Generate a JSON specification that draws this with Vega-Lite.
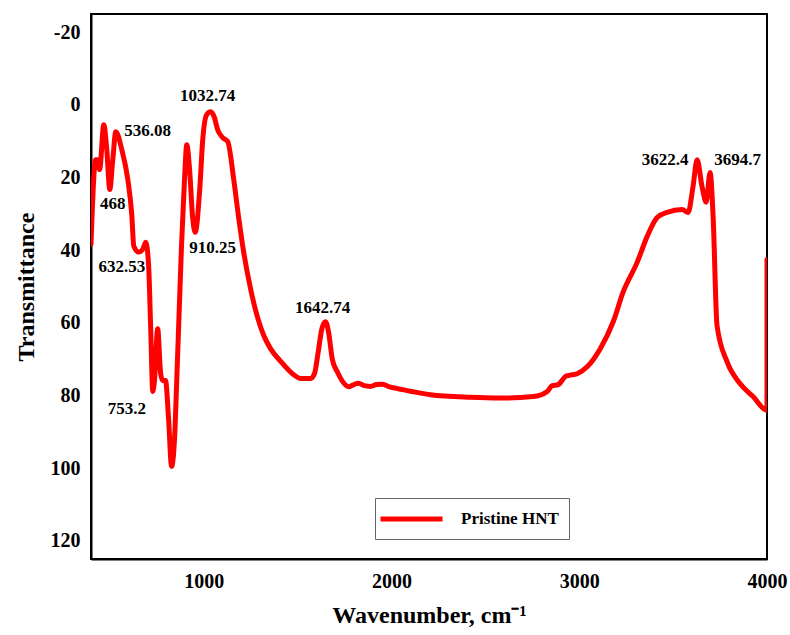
{
  "$schema": "https://vega.github.io/schema/vega-lite/v6.json",
  "width": 676,
  "height": 545,
  "autosize": {"type": "none"},
  "padding": {"left": 91, "top": 14, "right": 23, "bottom": 76},
  "background": "white",
  "config": {
    "view": {"stroke": "black", "strokeWidth": 2},
    "font": "Liberation Serif",
    "axis": {
      "grid": false, "ticks": false, "domainColor": "black", "domainWidth": 2,
      "labelFont": "Liberation Serif", "labelFontWeight": "bold", "labelFontSize": 20, "labelColor": "black",
      "titleFont": "Liberation Serif", "titleFontWeight": "bold", "titleFontSize": 24, "titleColor": "black"
    }
  },
  "datasets": {
    "spectrum": [
      {"x": 400, "y": 38.4}, {"x": 425, "y": 15.1}, {"x": 436, "y": 15.1}, {"x": 446, "y": 17.8},
      {"x": 468, "y": 5.5}, {"x": 484, "y": 12.3}, {"x": 500, "y": 23.3}, {"x": 516, "y": 15.1},
      {"x": 532, "y": 7.4}, {"x": 564, "y": 12.3}, {"x": 596, "y": 20.5}, {"x": 617, "y": 30.1},
      {"x": 628, "y": 38.9}, {"x": 654, "y": 40.5}, {"x": 676, "y": 39.7}, {"x": 692, "y": 37.8},
      {"x": 707, "y": 44.4}, {"x": 718, "y": 61.6}, {"x": 729, "y": 78.9}, {"x": 739, "y": 75.3},
      {"x": 755, "y": 61.6}, {"x": 771, "y": 74.0}, {"x": 782, "y": 75.9}, {"x": 797, "y": 75.9},
      {"x": 813, "y": 86.3}, {"x": 829, "y": 99.5}, {"x": 845, "y": 91.8}, {"x": 857, "y": 75.3},
      {"x": 870, "y": 56.2}, {"x": 882, "y": 38.9}, {"x": 898, "y": 20.5}, {"x": 910, "y": 11.0},
      {"x": 925, "y": 17.8}, {"x": 941, "y": 30.9}, {"x": 955, "y": 35.1}, {"x": 979, "y": 23.3},
      {"x": 995, "y": 9.6}, {"x": 1016, "y": 2.7}, {"x": 1037, "y": 1.9}, {"x": 1058, "y": 3.6},
      {"x": 1074, "y": 6.8}, {"x": 1101, "y": 9.0}, {"x": 1128, "y": 10.1}, {"x": 1160, "y": 20.5},
      {"x": 1186, "y": 30.9}, {"x": 1213, "y": 40.5}, {"x": 1250, "y": 50.7}, {"x": 1287, "y": 58.5},
      {"x": 1320, "y": 63.5}, {"x": 1356, "y": 67.1}, {"x": 1410, "y": 70.6}, {"x": 1473, "y": 74.0},
      {"x": 1516, "y": 75.3}, {"x": 1569, "y": 75.3}, {"x": 1590, "y": 74.0}, {"x": 1610, "y": 68.0},
      {"x": 1630, "y": 61.5}, {"x": 1649, "y": 59.7}, {"x": 1665, "y": 62.5}, {"x": 1685, "y": 70.0},
      {"x": 1713, "y": 73.6}, {"x": 1745, "y": 76.5}, {"x": 1771, "y": 77.6}, {"x": 1800, "y": 77.0},
      {"x": 1824, "y": 76.6}, {"x": 1855, "y": 77.3}, {"x": 1888, "y": 77.5}, {"x": 1920, "y": 77.0},
      {"x": 1952, "y": 76.9}, {"x": 1990, "y": 77.6}, {"x": 2032, "y": 78.1}, {"x": 2120, "y": 79.0},
      {"x": 2207, "y": 79.8}, {"x": 2420, "y": 80.5}, {"x": 2580, "y": 80.7}, {"x": 2755, "y": 80.3},
      {"x": 2830, "y": 78.9}, {"x": 2856, "y": 77.3}, {"x": 2888, "y": 77.0}, {"x": 2926, "y": 74.8},
      {"x": 2941, "y": 74.5}, {"x": 2989, "y": 74.0}, {"x": 3042, "y": 72.1}, {"x": 3112, "y": 67.1},
      {"x": 3181, "y": 59.7}, {"x": 3234, "y": 51.5}, {"x": 3309, "y": 43.3}, {"x": 3362, "y": 36.2},
      {"x": 3415, "y": 31.0}, {"x": 3468, "y": 29.6}, {"x": 3548, "y": 28.8}, {"x": 3580, "y": 29.6},
      {"x": 3606, "y": 22.5}, {"x": 3628, "y": 15.1}, {"x": 3654, "y": 22.5}, {"x": 3676, "y": 26.8},
      {"x": 3697, "y": 18.6}, {"x": 3713, "y": 30.7}, {"x": 3734, "y": 60.8}, {"x": 3787, "y": 70.7},
      {"x": 3856, "y": 76.7}, {"x": 3926, "y": 80.3}, {"x": 4000, "y": 84.1}, {"x": 4000, "y": 42.6}
    ],
    "labels": [
      {"label": "1032.74", "x": 1021, "y": -2.5},
      {"label": "536.08", "x": 702, "y": 7.1},
      {"label": "468", "x": 516, "y": 27.4},
      {"label": "632.53", "x": 564, "y": 44.7},
      {"label": "910.25", "x": 1048, "y": 39.5},
      {"label": "753.2", "x": 591, "y": 83.6},
      {"label": "1642.74", "x": 1633, "y": 55.9},
      {"label": "3622.4", "x": 3458, "y": 15.1},
      {"label": "3694.7", "x": 3843, "y": 15.3}
    ]
  },
  "layer": [
    {
      "data": {"name": "spectrum"},
      "mark": {"type": "line", "strokeWidth": 5, "clip": true, "strokeJoin": "round", "strokeCap": "round", "interpolate": "monotone"},
      "encoding": {
        "x": {"field": "x", "type": "quantitative", "scale": {"domain": [400, 4000], "nice": false, "zero": false},
              "axis": {"values": [1000, 2000, 3000, 4000], "format": "d", "labelFlush": false, "labelPadding": 12, "titlePadding": 12, "title": "Wavenumber, cm⁻¹"}},
        "y": {"field": "y", "type": "quantitative", "scale": {"domain": [-25, 125], "reverse": true, "nice": false, "zero": false},
              "axis": {"values": [-20, 0, 20, 40, 60, 80, 100, 120], "labelExpr": "toString(datum.value)", "labelPadding": 11, "titlePadding": 12, "title": "Transmittance"}},
        "color": {"datum": "Pristine HNT", "type": "nominal", "scale": {"range": ["#ff0000"]},
                  "legend": {"title": null, "orient": "none", "legendX": 284, "legendY": 484,
                             "symbolType": "M-3.65,0H3.65", "symbolSize": 289, "symbolStrokeWidth": 5, "symbolOffset": 15.5,
                             "labelOffset": 38.5, "labelFont": "Liberation Serif", "labelFontWeight": "bold", "labelFontSize": 17,
                             "labelColor": "black", "strokeColor": "#666", "fillColor": "white", "padding": 10}},
        "order": {"value": null}
      }
    },
    {
      "data": {"name": "labels"},
      "mark": {"type": "text", "font": "Liberation Serif", "fontWeight": "bold", "fontSize": 17, "color": "black", "align": "center", "baseline": "middle"},
      "encoding": {
        "x": {"field": "x", "type": "quantitative"},
        "y": {"field": "y", "type": "quantitative"},
        "text": {"field": "label", "type": "nominal"}
      }
    }
  ]
}
